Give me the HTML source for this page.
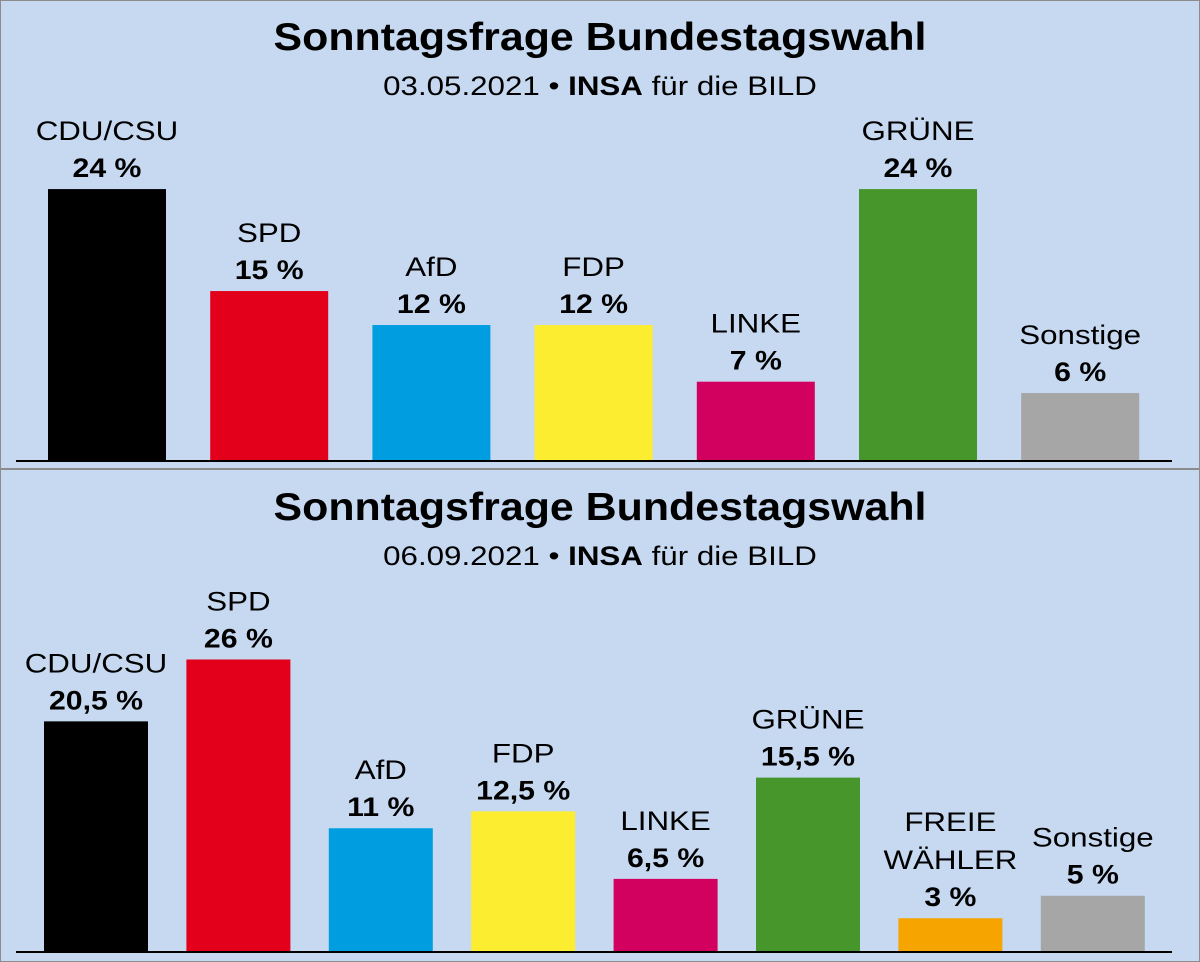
<!DOCTYPE html>
<html><head><meta charset="utf-8"><style>
html,body{margin:0;padding:0;background:#c6d9f1}
svg{display:block}
text{font-family:"Liberation Sans",Arial,sans-serif;fill:#000}
</style></head><body>
<svg id="c" width="1200" height="962" viewBox="0 0 1200 962">
<rect x="0.5" y="0.5" width="1199" height="961" fill="#c6d9f1" stroke="#8c8c8c"/>
<line x1="0" y1="469" x2="1200" y2="469" stroke="#8c8c8c" stroke-width="2"/>
</svg>
<script>
const topParties=["CDU/CSU","SPD","AfD","FDP","LINKE","GRÜNE","Sonstige"];
const topValues=[24,15,12,12,7,24,6];
const topLabels=["24 %","15 %","12 %","12 %","7 %","24 %","6 %"];
const topColors=["#000000","#e3001b","#009ee0","#fced30","#d2005f","#46962b","#a6a6a6"];
const botParties=["CDU/CSU","SPD","AfD","FDP","LINKE","GRÜNE","FREIE WÄHLER","Sonstige"];
const botValues=[20.5,26,11,12.5,6.5,15.5,3,5];
const botLabels=["20,5 %","26 %","11 %","12,5 %","6,5 %","15,5 %","3 %","5 %"];
const botColors=["#000000","#e3001b","#009ee0","#fced30","#d2005f","#46962b","#f5a400","#a6a6a6"];
const svg=document.getElementById('c');
const NS="http://www.w3.org/2000/svg";
function mk(tag,attrs,txt){const e=document.createElementNS(NS,tag);for(const k in attrs)e.setAttribute(k,attrs[k]);if(txt!==undefined)e.textContent=txt;svg.appendChild(e);return e;}
function stretch(e,cx,s){e.setAttribute('transform','translate('+cx+',0) scale('+s+',1) translate('+(-cx)+',0)');}
function panel(p,parties,values,labels,colors){
  const t=mk('text',{x:600,y:p.oy+50,'text-anchor':'middle','font-size':39,'font-weight':'bold'},'Sonntagsfrage Bundestagswahl');
  
  
  stretch(t,600,1.1);
  const s=mk('text',{x:600,y:p.oy+95,'text-anchor':'middle','font-size':27});
  
  
  s.setAttribute('xml:space','preserve');
  s.innerHTML='06.09.2021'.length&&(p.date+' • <tspan font-weight="bold">INSA</tspan>  für die BILD');
  stretch(s,600,1.16);
  const yScale=v=>p.base-v*p.ppu;
  const xScale=i=>p.x0+i*p.step;
  values.forEach((v,i)=>{
    const x=xScale(i),y=yScale(v);
    const r=mk('rect',{x:x,y:y,width:p.w,height:p.base-y,fill:colors[i]});
    
    
    const cx=x+p.w/2;
    const lv=mk('text',{x:cx,y:y-12,'text-anchor':'middle','font-size':27,'font-weight':'bold'},labels[i]);
    
    
    stretch(lv,cx,1.12);
    const words=parties[i]==="FREIE WÄHLER"?["FREIE","WÄHLER"]:[parties[i]];
    words.forEach((w,j)=>{
      const ln=mk('text',{x:cx,y:y-49-(words.length-1-j)*38,'text-anchor':'middle','font-size':27},w);
      
      
      stretch(ln,cx,1.16);
    });
  });
  const b=mk('line',{x1:16,y1:p.base,x2:1172,y2:p.base,stroke:'#000','stroke-width':2});
  
  
}
panel({oy:0,date:'03.05.2021',base:461,ppu:11.33,x0:48,step:162.2,w:118},topParties,topValues,topLabels,topColors);
panel({oy:470,date:'06.09.2021',base:952,ppu:11.25,x0:44,step:142.4,w:104},botParties,botValues,botLabels,botColors);
</script>
</body></html>
